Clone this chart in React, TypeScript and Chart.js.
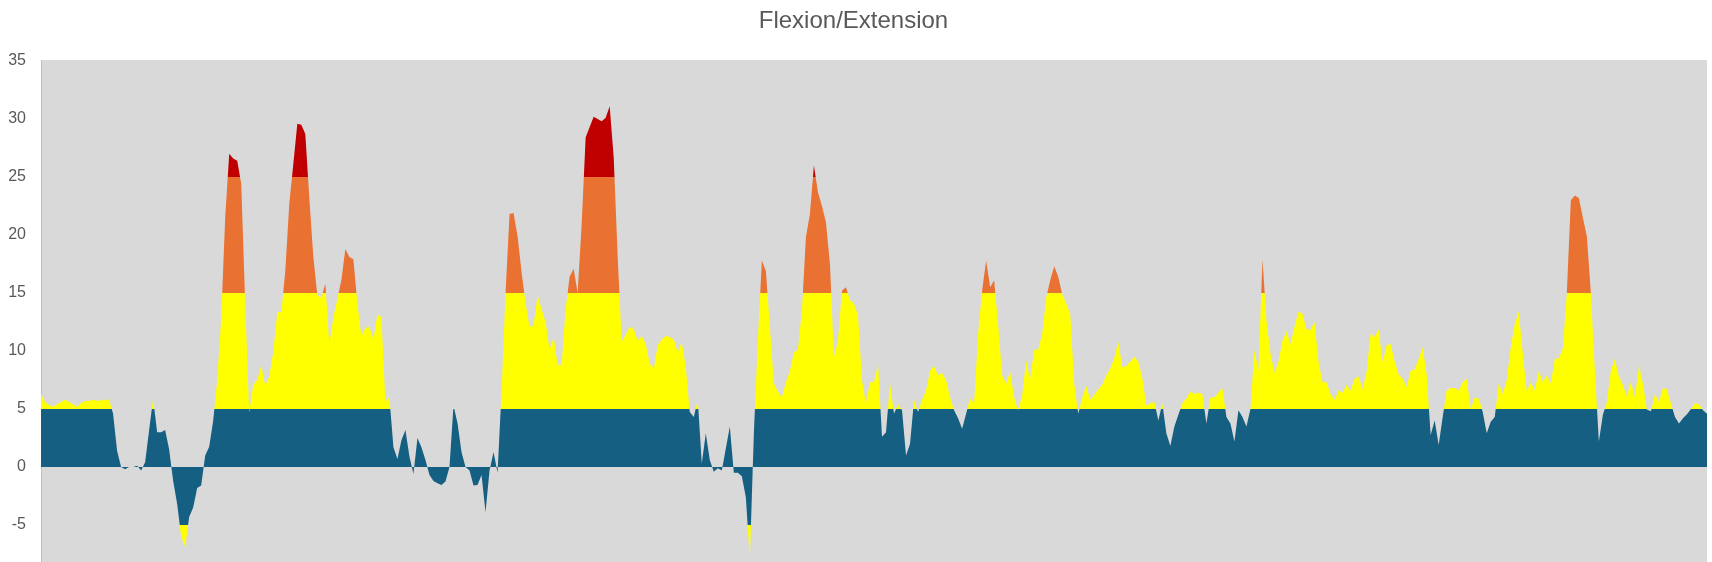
import React, { useEffect, useRef } from "react";
import { Chart, registerables } from "chart.js";

Chart.register(...registerables);

// ---- Data ----
const chartTitle = "Flexion/Extension";
const yTickValues = [-5, 0, 5, 10, 15, 20, 25, 30, 35];
const yAxisMin = -8.1897;
const yAxisMax = 35.0862;

// Flexion / extension angle, one sample per time step
const flexion: number[] = [
  // 0-43
  6.3, 5.6, 5.35, 5.2, 5.4, 5.6, 5.8, 5.6, 5.4, 5.2,
  5.5, 5.7, 5.7, 5.8, 5.7, 5.75, 5.8, 5.8, 4.6, 1.4,
  0, -0.2, 0, 0, 0.1, -0.3, 0.4, 3.2, 5.9, 3.0,
  3.0, 3.2, 1.5, -1.2, -3.2, -6.0, -6.9, -4.3, -3.5, -1.8,
  -1.6, 1.0, 1.75, 4.0,
  // 44-51
  7.5, 12.9, 21.5, 27.0, 26.6, 26.4, 24.4, 14.0,
  // 52-104
  4.7, 7.1, 7.5, 8.8, 7.0, 7.8, 9.9, 13.4, 13.3, 16.9,
  22.7, 26.1, 29.6, 29.5, 28.7, 23.2, 18.1, 14.8, 14.6, 15.8,
  10.6, 12.9, 14.5, 16.1, 18.8, 18.1, 17.9, 14.1, 11.3, 12.0,
  12.1, 11.0, 13.2, 12.9, 5.6, 6.0, 1.7, 0.7, 2.3, 3.2,
  0.9, -0.6, 2.5, 1.7, 0.6, -0.7, -1.2, -1.4, -1.55, -1.25,
  0, 5.3, 3.8,
  // 105-156
  1.3, 0, -0.3, -1.6, -1.55, -0.7, -3.9, -0.3, 1.3, -0.5,
  6.5, 15.0, 21.8, 21.9, 19.9, 16.8, 14.1, 12.1, 12.2, 14.8,
  13.6, 12.5, 10.1, 11.2, 8.8, 8.8, 13.6, 16.4, 17.1, 15.0,
  20.9, 28.4, 29.3, 30.2, 30.0, 29.8, 30.1, 31.1, 26.7, 18.1,
  10.8, 11.4, 12.1, 11.9, 10.9, 11.3, 10.6, 8.9, 8.5, 10.5,
  11.0, 11.3,
  // 157-209
  11.2, 11.0, 9.9, 10.8, 8.6, 4.75, 4.3, 5.8, 0.3, 2.9,
  0.6, -0.4, -0.1, -0.3, 1.6, 3.5, -0.5, -0.5, -0.8, -2.6,
  -8.0, 2.9, 11.0, 17.8, 16.9, 12.1, 7.2, 6.5, 6.0, 7.3,
  8.3, 9.9, 10.1, 13.5, 19.8, 21.8, 26.0, 23.7, 22.5, 21.1,
  17.5, 9.5, 10.9, 15.2, 15.5, 14.4, 14.1, 13.1, 7.5, 5.5,
  7.3, 7.3, 8.9,
  // 210-261
  2.6, 3.0, 7.2, 4.6, 5.4, 4.9, 1.0, 2.0, 5.8, 4.75,
  5.8, 6.6, 8.3, 8.7, 7.9, 8.1, 7.5, 6.0, 4.9, 4.2,
  3.3, 4.6, 5.9, 5.5, 11.5, 15.2, 17.8, 15.5, 16.1, 12.3,
  7.9, 7.2, 8.2, 6.0, 4.9, 6.2, 9.2, 7.6, 10.1, 10.1,
  11.5, 14.6, 16.1, 17.3, 16.4, 14.9, 14.1, 13.2, 7.2, 4.6,
  6.0, 7.0,
  // 262-314
  5.8, 6.2, 6.7, 7.1, 7.9, 8.5, 9.4, 10.8, 8.6, 8.7,
  9.1, 9.5, 9.1, 7.7, 5.3, 5.5, 5.6, 4.0, 5.5, 2.9,
  1.8, 3.5, 4.5, 5.5, 5.9, 6.5, 6.3, 6.4, 6.3, 3.75,
  6.0, 6.0, 6.4, 6.8, 4.3, 3.75, 2.2, 4.9, 4.3, 3.5,
  5.0, 10.1, 8.3, 17.9, 12.6, 9.8, 8.1, 9.1, 10.9, 11.7,
  10.6, 12.1, 13.4,
  // 315-364
  13.2, 11.9, 11.8, 12.5, 9.1, 7.3, 7.3, 6.3, 5.8, 6.6,
  6.4, 7.1, 6.6, 7.6, 7.8, 6.7, 8.2, 11.5, 11.2, 11.9,
  9.0, 10.5, 10.6, 9.1, 8.0, 7.6, 6.9, 8.3, 8.4, 9.3,
  10.3, 8.0, 2.75, 4.0, 1.9, 4.3, 6.6, 6.8, 6.8, 6.6,
  7.3, 7.6, 5.0, 6.0, 5.9, 4.75, 2.9, 3.9, 4.3, 7.2,
  // 365-416
  6.3, 7.5, 10.3, 12.3, 13.4, 9.8, 6.5, 7.3, 6.6, 8.3,
  7.3, 7.9, 7.2, 9.3, 9.4, 10.2, 15.0, 23.0, 23.4, 23.2,
  21.5, 19.9, 15.0, 8.3, 2.2, 4.5, 5.6, 8.3, 9.3, 7.8,
  7.1, 6.1, 7.3, 6.0, 8.7, 7.2, 4.95, 4.8, 6.3, 5.6,
  6.8, 6.7, 5.5, 4.3, 3.75, 4.2, 4.55, 5.0, 5.5, 5.4,
  4.9, 4.6,
];

const categories: string[] = flexion.map((_, i) => String(i + 1));

// Colour zones (value limits, from top to bottom)
const zoneLimits = [25, 15, 5, -5];

const colors = {
  blue: "#156082",
  yellow: "#FFFF00",
  orange: "#E97132",
  red: "#C00000",
  plot: "#D9D9D9",
  text: "#595959",
  axis: "#BFBFBF",
};

// colour above each limit, and the last one below the lowest limit
const zoneColors = [colors.red, colors.orange, colors.yellow, colors.blue, colors.yellow];

const plotBackground = {
  id: "plotBackground",
  beforeDraw(chart: any) {
    const { ctx, chartArea: a } = chart;
    if (!a) return;
    ctx.save();
    ctx.fillStyle = colors.plot;
    ctx.fillRect(a.left, a.top, a.right - a.left, a.bottom - a.top);
    ctx.restore();
  },
};

let cachedGradient: CanvasGradient | null = null;
let cachedKey = "";

function zoneFill(context: any) {
  const chart = context.chart;
  const { ctx, chartArea, scales } = chart;
  if (!chartArea || !scales || !scales.y) return colors.blue;
  const key = `${chartArea.top}-${chartArea.bottom}`;
  if (cachedGradient && cachedKey === key) return cachedGradient;
  const top = chartArea.top;
  const bottom = chartArea.bottom;
  const span = bottom - top;
  const g = ctx.createLinearGradient(0, top, 0, bottom);
  let prev = 0;
  zoneLimits.forEach((lim, i) => {
    const f = Math.min(1, Math.max(0, (scales.y.getPixelForValue(lim) - top) / span));
    g.addColorStop(prev, zoneColors[i]);
    g.addColorStop(f, zoneColors[i]);
    prev = f;
  });
  g.addColorStop(prev, zoneColors[zoneColors.length - 1]);
  g.addColorStop(1, zoneColors[zoneColors.length - 1]);
  cachedGradient = g;
  cachedKey = key;
  return g;
}

export default function App() {
  const canvasRef = useRef<HTMLCanvasElement>(null);

  useEffect(() => {
    if (!canvasRef.current) return;
    Chart.defaults.font.family = "'Liberation Sans', Arial, sans-serif";
    cachedGradient = null;
    const chart = new Chart(canvasRef.current, {
      type: "line",
      data: {
        labels: categories,
        datasets: [
          {
            label: chartTitle,
            data: flexion,
            backgroundColor: zoneFill,
            borderColor: "rgba(0,0,0,0)",
            borderWidth: 0,
            pointRadius: 0,
            pointHoverRadius: 0,
            tension: 0,
            fill: "origin",
          },
        ] as any,
      },
      options: {
        animation: false,
        responsive: true,
        maintainAspectRatio: false,
        layout: { padding: { left: 0, right: 5, top: 0, bottom: 0 } },
        plugins: {
          legend: { display: false },
          tooltip: { enabled: false },
          title: {
            display: true,
            text: chartTitle,
            color: colors.text,
            font: { size: 24, weight: "normal", lineHeight: 1.25 },
            padding: { top: 6, bottom: 24 },
          },
        },
        scales: {
          x: {
            type: "category",
            display: false,
            offset: false,
          },
          y: {
            min: yAxisMin,
            max: yAxisMax,
            grid: { display: false, drawTicks: false },
            border: { display: true, color: colors.axis, width: 1 },
            ticks: {
              color: colors.text,
              font: { size: 16 },
              padding: 15,
              autoSkip: false,
              callback: (v: any) => String(v),
            },
            afterBuildTicks: (s: any) => {
              s.ticks = yTickValues.map((v) => ({ value: v }));
            },
            afterFit: (s: any) => {
              s.width = 41;
              s.paddingTop = 0;
              s.paddingBottom = 0;
            },
          },
        },
      } as any,
      plugins: [plotBackground],
    });
    return () => chart.destroy();
  }, []);

  return (
    <div style={{ position: "fixed", left: 0, top: 0, width: 1712, height: 562 }}>
      <canvas ref={canvasRef} />
    </div>
  );
}
